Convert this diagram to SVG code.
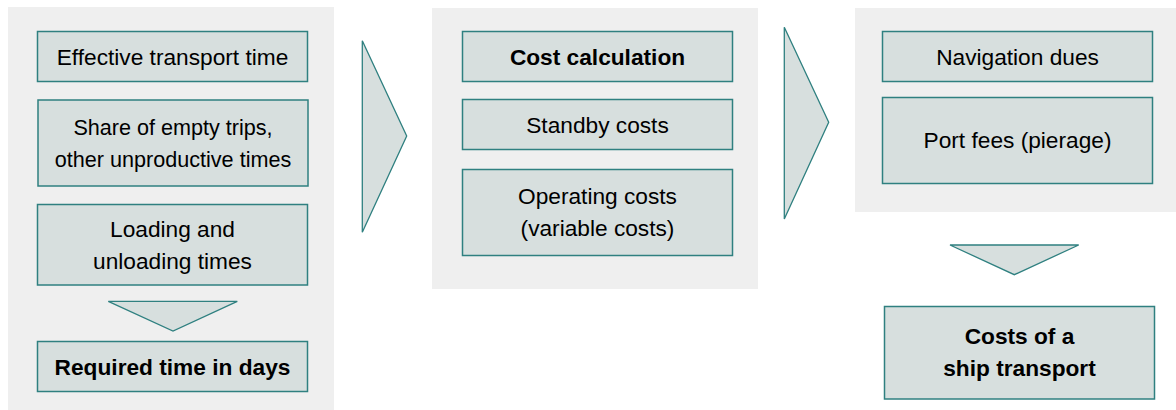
<svg xmlns="http://www.w3.org/2000/svg" width="1176" height="410" viewBox="0 0 1176 410">
<style>
.panel{fill:#efefef;stroke:none}
.box{fill:#d7dfde;stroke:#2f8080;stroke-width:1.5}
.arrow{fill:#d7dfde;stroke:#2f8080;stroke-width:1.3;stroke-linejoin:miter}
text{font-family:"Liberation Sans",Arial,sans-serif;font-size:22.7px;fill:#000;text-anchor:middle}
.b{font-weight:bold}
.s{font-size:21.6px}
</style>
<rect x="0" y="0" width="1176" height="410" fill="#ffffff"/>
<g id="panel-time"><rect class="panel" x="8" y="7" width="326" height="403"/></g>
<g id="panel-cost"><rect class="panel" x="432" y="8" width="326" height="281"/></g>
<g id="panel-fees"><rect class="panel" x="855" y="8" width="321" height="204"/></g>

<g id="n-effective"><rect class="box" x="37.5" y="31.5" width="270" height="50"/><text x="172.5" y="65.3">Effective transport time</text></g>
<g id="n-share"><rect class="box" x="38" y="100" width="270" height="86"/><text class="s" x="173" y="135">Share of empty trips,</text><text class="s" x="173" y="166.7">other unproductive times</text></g>
<g id="n-loading"><rect class="box" x="37.5" y="204.5" width="270" height="80.5"/><text x="172.5" y="237.3">Loading and</text><text x="172.5" y="268.7">unloading times</text></g>
<g id="n-required"><rect class="box" x="37.5" y="341.5" width="270" height="50"/><text class="b" x="172.5" y="375">Required time in days</text></g>

<g id="n-costcalc"><rect class="box" x="462.5" y="31.5" width="270" height="50"/><text class="b" x="597.5" y="65">Cost calculation</text></g>
<g id="n-standby"><rect class="box" x="462.5" y="99.5" width="270" height="50"/><text x="597.5" y="132.7">Standby costs</text></g>
<g id="n-operating"><rect class="box" x="462.5" y="169.5" width="270" height="86"/><text x="597.5" y="204">Operating costs</text><text x="597.5" y="236">(variable costs)</text></g>

<g id="n-navigation"><rect class="box" x="882.5" y="31.5" width="270" height="50"/><text x="1017.5" y="64.5">Navigation dues</text></g>
<g id="n-port"><rect class="box" x="882.5" y="97.5" width="270" height="86"/><text x="1017.5" y="148.3">Port fees (pierage)</text></g>
<g id="n-costs"><rect class="box" x="884.5" y="306.5" width="270" height="92.5"/><text class="b" x="1019.5" y="344.3">Costs of a</text><text class="b" x="1019.5" y="376">ship transport</text></g>

<g id="connectors">
<polygon class="arrow" points="108.3,301.3 237.3,301.3 173,331"/>
<polygon class="arrow" points="362.3,40.7 406.7,136 362.3,232.3"/>
<polygon class="arrow" points="784.3,27.3 828.7,122.3 784.3,219"/>
<polygon class="arrow" points="950,245 1078.7,245 1014.3,274.7"/>
</g>
</svg>
